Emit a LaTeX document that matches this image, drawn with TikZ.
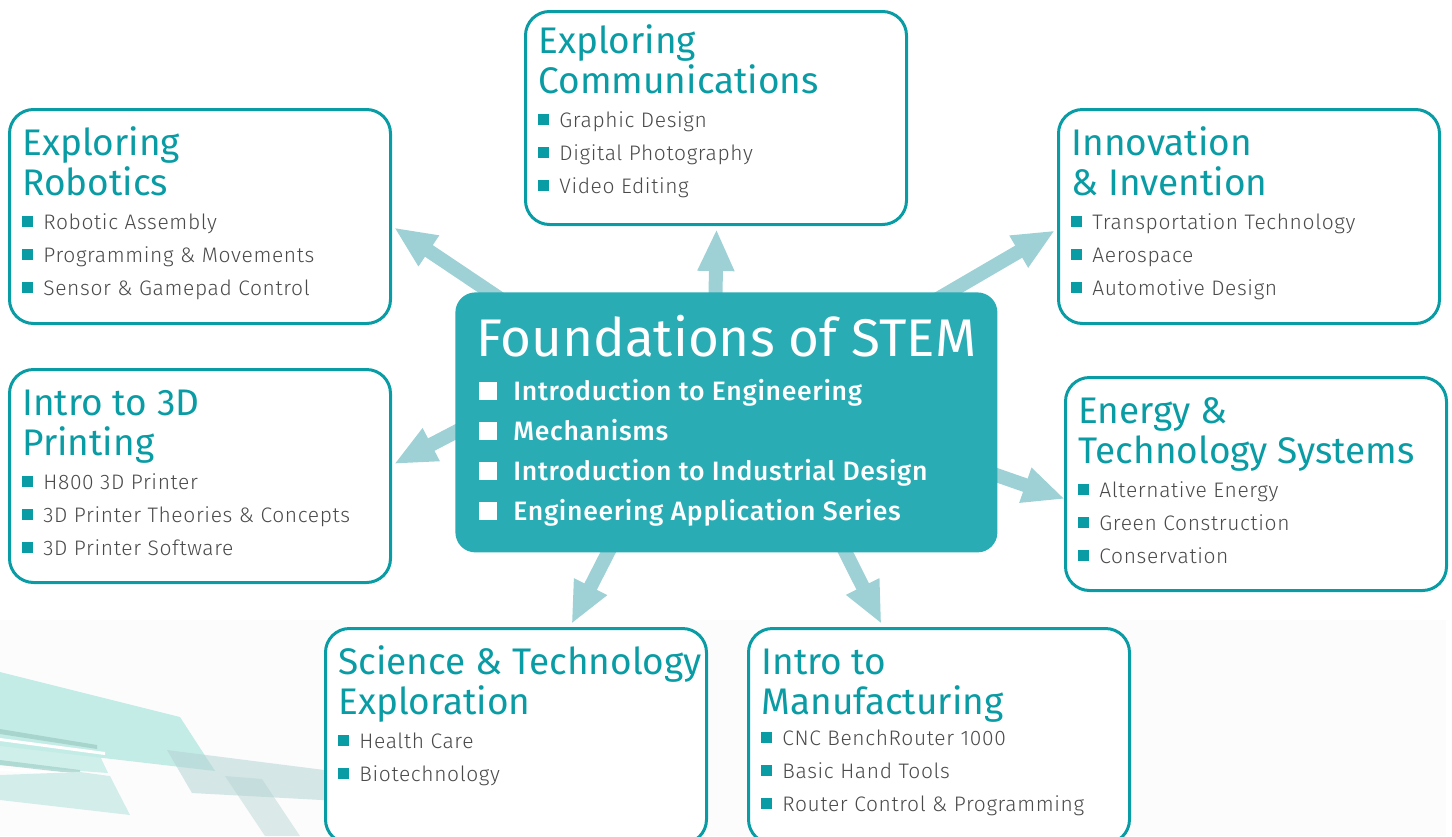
\documentclass[tikz,border=0pt]{standalone}
\usepackage{fontspec}
\setmainfont{Fira Sans}
\newfontfamily\itemfont{Fira Sans}[UprightFont={* Light},LetterSpace=3]
\newfontfamily\medfont{Fira Sans}[UprightFont={* Medium},LetterSpace=2.5]
\usetikzlibrary{arrows.meta,calc,backgrounds}
\definecolor{teal1}{HTML}{0A9CA4}
\definecolor{stemfill}{HTML}{2AACB4}
\definecolor{arrowc}{HTML}{9DD1D5}
\definecolor{itemgray}{HTML}{4A4A4A}
\definecolor{bandgray}{HTML}{FCFCFC}
\definecolor{decoA}{HTML}{C4ECE6}
\definecolor{decoB}{HTML}{A8D4CE}
\definecolor{decoC}{HTML}{D3EEEA}
\definecolor{decoD}{HTML}{B4D4D4}
\def\px{0.5pt}
\def\boxdy{0}
\def\itemdy{0}
\tikzset{
  cbox/.style={draw=teal1, line width=1.5pt, rounded corners=12pt, fill=white, inner sep=0pt},
  ctitle/.style={text=teal1, font=\fontsize{18.5}{20}\selectfont, inner sep=0pt},
  citem/.style={text=itemgray, font=\itemfont\fontsize{10.5}{12}\selectfont, inner sep=0pt},
  stitle/.style={text=white, font=\fontsize{26.5}{28}\selectfont, inner sep=0pt},
  sitem/.style={text=white, font=\medfont\fontsize{13.3}{15}\selectfont, inner sep=0pt},
  arr/.style={draw=arrowc, line width=7pt, -{Triangle[length=21pt,width=17pt]}}
}
% #1 name, #2 left, #3 top, #4 width, #5 height, #6 title 1, #7 title 2, #8 items
\newcommand\coursebox[8]{%
  \node[cbox, minimum width=#4*\px, minimum height=#5*\px, anchor=north west] (#1) at (#2,#3+\boxdy) {};
  \node[ctitle, anchor=base west] (#1-t1) at (#2+14,#3+47) {#6};
  \node[ctitle, anchor=base west] (#1-t2) at (#2+14,#3+87) {#7};
  \foreach \itm [count=\k] in {#8} {
    \fill[teal1] (#2+14,#3+86+33*\k+\itemdy) rectangle ++(11,-11);
    \node[citem, anchor=base west] (#1-i\k) at (#2+35,#3+88+33*\k+\itemdy) {\itm};
  }
}
\begin{document}
\begin{tikzpicture}[x=0.5pt, y=-0.5pt]
\useasboundingbox (0,0) rectangle (1452,836);

\def\boxdy{4}
\coursebox{comm}{524}{6}{381}{213}{Exploring}{Communications}{Graphic Design,Digital Photography,Video Editing}
\def\boxdy{0}
\coursebox{robot}{8}{108}{381}{214}{Exploring}{Robotics}{Robotic Assembly,Programming \& Movements,Sensor \& Gamepad Control}
\coursebox{innov}{1057}{108}{381}{214}{Innovation}{\& Invention}{Transportation Technology,Aerospace,Automotive Design}
\coursebox{print}{8}{368}{381}{213}{Intro to 3D}{Printing}{H800 3D Printer,3D Printer Theories \& Concepts,3D Printer Software}
\coursebox{energy}{1064}{376}{381}{213}{Energy \&}{Technology Systems}{Alternative Energy,Green Construction,Conservation}
\coursebox{sci}{324}{627}{381}{215}{Science \& Technology}{Exploration}{Health Care,Biotechnology}
\def\itemdy{-3}
\coursebox{manuf}{747}{627}{381}{215}{Intro to}{Manufacturing}{CNC BenchRouter 1000,Basic Hand Tools,Router Control \& Programming}
\def\itemdy{0}

\node[fill=stemfill, rounded corners=10pt, minimum width=542*\px, minimum height=260*\px, anchor=north west, inner sep=0pt] (stem) at (455,292) {};
\node[stitle, anchor=base west] (stem-t) at (476,356) {Foundations of STEM};
\foreach \itm [count=\k] in {Introduction to Engineering,Mechanisms,Introduction to Industrial Design,Engineering Application Series} {
  \fill[white] (479,360+40*\k) rectangle ++(18,-18);
  \node[sitem, anchor=base west] (stem-i\k) at (513,360+40*\k) {\itm};
}

\begin{pgfonlayer}{background}
  \fill[bandgray] (0,620) rectangle (1446,836);
  % decoration bottom left
  \fill[decoA] (0,672) -- (180,717) -- (215,771) -- (0,746) -- cycle;
  \fill[decoB] (0,729) -- (97,745) -- (97,749) -- (0,734) -- cycle;
  \fill[white] (0,738) -- (105,752) -- (105,755) -- (0,741) -- cycle;
  \fill[decoA, opacity=0.8] (0,742) -- (100,756) -- (108,773) -- (0,765) -- cycle;
  \fill[decoB, opacity=0.8] (0,760) -- (80,770) -- (80,774) -- (0,765) -- cycle;
  \fill[white] (0,768) -- (108,775) -- (108,777) -- (0,771) -- cycle;
  \fill[decoC] (0,775) -- (80,772) -- (110,776) -- (130,815) -- (0,800) -- cycle;
  \fill[decoD, opacity=0.55] (167,750) -- (340,772) -- (340,801) -- (192,793) -- cycle;
  \fill[decoD, opacity=0.45] (225,776) -- (262,779) -- (300,836) -- (265,836) -- cycle;
  % arrows
  \draw[arr] ($(stem.north west)+(50,10)$) -- ($(robot.east)+(2,11)$);
  \draw[arr] ($(stem.north)+(-11,13)$) -- ($(comm.south)+(0.5,3)$);
  \draw[arr] ($(stem.north east)+(-62,8)$) -- ($(innov.west)+(-2,14)$);
  \draw[arr] ($(stem.west)+(15,2)$) -- ($(print.east)+(2,-12)$);
  \draw[arr] ($(stem.east)+(-12,49)$) -- ($(energy.west)+(1,15)$);
  \draw[arr] ($(stem.south west)+(159,-12)$) -- ($(sci.north)+(55.5,-3)$);
  \draw[arr] ($(stem.south east)+(-158,-12)$) -- ($(manuf.north)+(-57.5,-3)$);
\end{pgfonlayer}
\end{tikzpicture}
\end{document}
